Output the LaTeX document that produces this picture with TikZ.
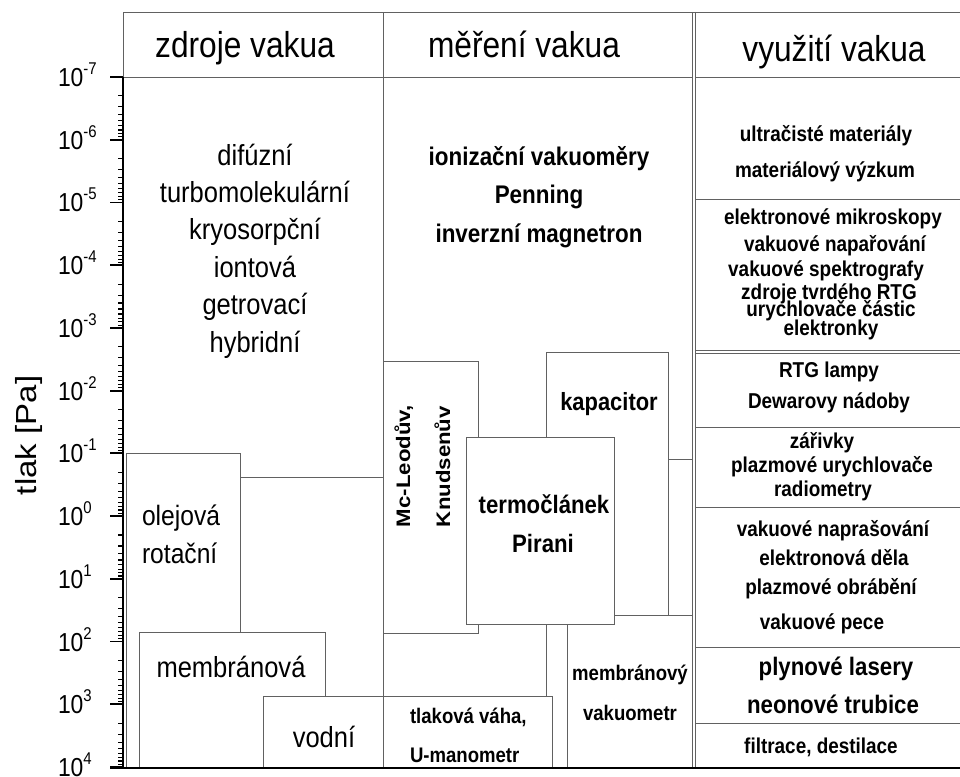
\documentclass[tikz,border=0pt]{standalone}
\usepackage{fontspec}
\setmainfont{Liberation Sans}
\usepackage{graphicx}
\definecolor{boxgray}{gray}{0.38}
\newcommand\Rtxt[2]{\scalebox{0.88}[1]{\fontsize{#1}{#1}\selectfont #2}}
\newcommand\Btxt[2]{\scalebox{0.88}[1]{\fontsize{#1}{#1}\selectfont\bfseries #2}}
\newcommand\Vtxt[2]{\scalebox{1}[0.88]{\fontsize{#1}{#1}\selectfont\bfseries #2}}
\newcommand\VRtxt[2]{\scalebox{1}[0.88]{\fontsize{#1}{#1}\selectfont #2}}
\begin{document}
\begin{tikzpicture}[x=1pt,y=-1pt,
  box/.style={draw=boxgray, line width=0.9pt, fill=white},
  rule/.style={draw=boxgray, line width=0.9pt},
  lbl/.style={anchor=base, inner sep=0pt, outer sep=0pt},
  lblw/.style={anchor=base west, inner sep=0pt, outer sep=0pt},
  axis/.style={draw=black, line width=1.3pt},
  majtick/.style={draw=black, line width=1.8pt},
  mintick/.style={draw=black, line width=1.1pt}]
\useasboundingbox[fill=white] (0,0) rectangle (960,776);

% headers
\draw[box] (123,12) rectangle (383,77);
\draw[box] (383,12) rectangle (692,77);
\draw[rule] (960,12) -- (692,12);
\draw[rule] (695,12) -- (695,767);
\draw[rule] (695,77) -- (960,77);

% left column: zdroje
\draw[box] (123,77) rectangle (383,767);
\draw[box] (200,477) rectangle (383,767);
\draw[box] (126,453) rectangle (240,767);
\draw[box] (139,632) rectangle (325,767);
\draw[box] (263,696) rectangle (383,767);

% middle column: mereni
\draw[box] (383,77) rectangle (692,767);
\draw[box] (600,459) rectangle (692,767);
\draw[box] (546,352) rectangle (668,767);
\draw[box] (383,361) rectangle (478,633);
\draw[box] (567,615) rectangle (692,767);
\draw[box] (466,437) rectangle (614,624);
\draw[box] (383,696) rectangle (552,767);

% right column: vyuziti
\foreach \yy in {199,350.5,353,427,507,647,723,767}
  \draw[rule] (695,\yy) -- (960,\yy);

% axis
\draw[axis] (123,77) -- (123,768);
\draw[draw=black, line width=1.6pt] (110,768) -- (960,768);
\foreach \k in {0,...,11}
  \draw[majtick] (110,{77+\k*62.73}) -- (123,{77+\k*62.73});
\foreach \k in {0,...,10}
  \foreach \m in {2,...,9}
    \draw[mintick] (118,{77+\k*62.73+ln(\m)/ln(10)*62.73}) -- (123,{77+\k*62.73+ln(\m)/ln(10)*62.73});
\foreach \e [count=\k from 0] in {-7,-6,-5,-4,-3,-2,-1,0,1,2,3,4}
  \node[lblw] (tick\k) at (58,{77+\k*62.73+9.5}) {\Rtxt{26}{10\raisebox{12pt}{\fontsize{17}{17}\selectfont \e}}};
\node[lblw, rotate=90] (ylab) at (36,495) {\VRtxt{33}{tlak [Pa]}};

% header texts
\node[lbl] (h1) at (245,57) {\Rtxt{36}{zdroje vakua}};
\node[lbl] (h2) at (524,58) {\Rtxt{36}{měření vakua}};
\node[lbl] (h3) at (834,62) {\Rtxt{36}{využití vakua}};

% left texts
\node[lbl] (z1) at (255,165) {\Rtxt{29}{difúzní}};
\node[lbl] (z2) at (255,202.4) {\Rtxt{29}{turbomolekulární}};
\node[lbl] (z3) at (255,239.8) {\Rtxt{29}{kryosorpční}};
\node[lbl] (z4) at (255,277.2) {\Rtxt{29}{iontová}};
\node[lbl] (z5) at (255,314.6) {\Rtxt{29}{getrovací}};
\node[lbl] (z6) at (255,352) {\Rtxt{29}{hybridní}};
\node[lblw] (z7) at (142,525) {\Rtxt{28}{olejová}};
\node[lblw] (z8) at (142,563) {\Rtxt{28}{rotační}};
\node[lbl] (z9) at (231,677) {\Rtxt{29}{membránová}};
\node[lbl] (z10) at (324,747) {\Rtxt{29}{vodní}};

% middle texts
\node[lbl] (m1) at (539,165) {\Btxt{25.5}{ionizační vakuoměry}};
\node[lbl] (m2) at (539,203) {\Btxt{25.5}{Penning}};
\node[lbl] (m3) at (539,242) {\Btxt{25.5}{inverzní magnetron}};
\node[lblw, rotate=90] (m4) at (410,527) {\Vtxt{22.2}{Mc-Leodův,}};
\node[lblw, rotate=90] (m5) at (450,527) {\Vtxt{22.2}{Knudsenův}};
\node[lbl] (m6) at (609,410) {\Btxt{24.9}{kapacitor}};
\node[lbl] (m7) at (544,513) {\Btxt{25.2}{termočlánek}};
\node[lbl] (m8) at (543,552) {\Btxt{25.2}{Pirani}};
\node[lbl] (m9) at (630,680) {\Btxt{21.1}{membránový}};
\node[lbl] (m10) at (630,720) {\Btxt{21.1}{vakuometr}};
\node[lblw] (m11) at (410,723) {\Btxt{21.1}{tlaková váha,}};
\node[lblw] (m12) at (410,762) {\Btxt{21.1}{U-manometr}};

% right texts
\node[lbl] (v1) at (826,141) {\Btxt{21.5}{ultračisté materiály}};
\node[lbl] (v2) at (825,177) {\Btxt{21.5}{materiálový výzkum}};
\node[lbl] (v3) at (833,224) {\Btxt{21.5}{elektronové mikroskopy}};
\node[lbl] (v4) at (835,251) {\Btxt{21.5}{vakuové napařování}};
\node[lbl] (v5) at (826,276) {\Btxt{21.5}{vakuové spektrografy}};
\node[lbl] (v6) at (829,299) {\Btxt{21.5}{zdroje tvrdého RTG}};
\node[lbl] (v7) at (831,316) {\Btxt{21.5}{urychlovače částic}};
\node[lbl] (v8) at (831,335) {\Btxt{21.5}{elektronky}};
\node[lbl] (v9) at (829,377) {\Btxt{21.5}{RTG lampy}};
\node[lbl] (v10) at (829,408) {\Btxt{21.5}{Dewarovy nádoby}};
\node[lbl] (v11) at (822,448) {\Btxt{21.5}{zářivky}};
\node[lbl] (v12) at (832,472) {\Btxt{21.5}{plazmové urychlovače}};
\node[lbl] (v13) at (823,496) {\Btxt{21.5}{radiometry}};
\node[lbl] (v14) at (833,536) {\Btxt{21.5}{vakuové naprašování}};
\node[lbl] (v15) at (834,565) {\Btxt{21.5}{elektronová děla}};
\node[lbl] (v16) at (831,594) {\Btxt{21.5}{plazmové obrábění}};
\node[lbl] (v17) at (822,629) {\Btxt{21.5}{vakuové pece}};
\node[lbl] (v18) at (836,675) {\Btxt{25.3}{plynové lasery}};
\node[lbl] (v19) at (833,713) {\Btxt{25.3}{neonové trubice}};
\node[lbl] (v20) at (821,753) {\Btxt{21.5}{filtrace, destilace}};
\end{tikzpicture}
\end{document}
